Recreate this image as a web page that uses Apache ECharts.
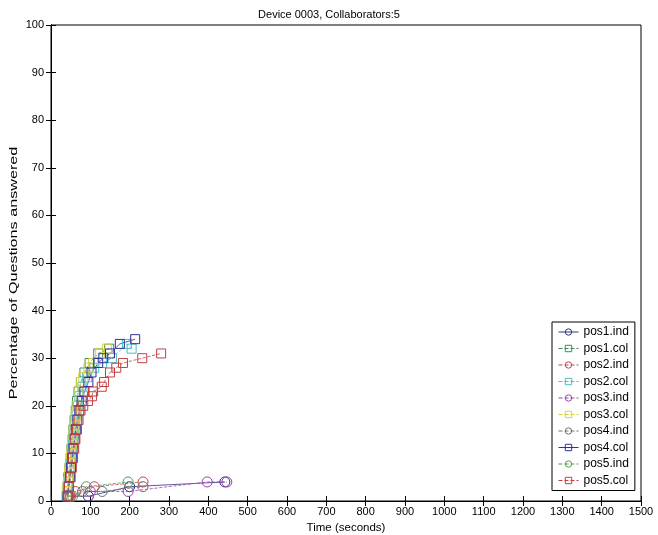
<!DOCTYPE html>
<html>
<head>
<meta charset="utf-8">
<script src="https://cdn.jsdelivr.net/npm/echarts@6/dist/echarts.min.js"></script>
<style>html,body{margin:0;padding:0;background:#fff}#c{width:658px;height:535px}</style>
</head>
<body>
<div id="c"></div>
<script>
var seriesNames = ['pos1.ind','pos1.col','pos2.ind','pos2.col','pos3.ind','pos3.col','pos4.ind','pos4.col','pos5.ind','pos5.col'];
var pos1_ind = [[42,1],[95,1],[200,3],[442,4]];
var pos1_col = [[40,1],[42,3],[44,5],[47,7],[50,9],[52,11],[55,13],[57,15],[60,17],[63,19],[66,21],[70,23],[76,25],[85,27],[98,29],[120,31],[148,32]];
var pos2_ind = [[48,1],[62,2],[110,3],[234,4]];
var pos2_col = [[41,1],[44,3],[47,5],[50,8],[53,10],[56,12],[59,14],[62,16],[65,18],[68,20],[72,22],[80,24],[92,26],[110,28],[130,29],[155,30],[193,33],[205,32]];
var pos3_ind = [[45,1],[100,2],[196,2],[397,4],[447,4]];
var pos3_col = [[40,2],[43,4],[46,6],[48,8],[51,10],[54,12],[57,14],[60,16],[63,18],[65,20],[70,23],[76,25],[82,26],[95,28],[107,29],[125,31],[142,32]];
var pos4_ind = [[50,1],[80,2],[130,2],[234,3]];
var pos4_col = [[42,1],[45,3],[48,5],[51,7],[54,9],[57,11],[60,13],[63,15],[67,17],[72,19],[78,21],[85,23],[95,25],[103,27],[120,29],[133,30],[150,31],[175,33],[214,34]];
var pos5_ind = [[55,1],[90,3],[196,4]];
var pos5_col = [[43,1],[46,3],[50,5],[53,7],[56,9],[59,11],[62,13],[66,15],[70,17],[75,19],[82,20],[94,21],[104,22],[107,23],[129,24],[135,25],[150,27],[166,28],[183,29],[232,30],[280,31]];
var allData = [pos1_ind,pos1_col,pos2_ind,pos2_col,pos3_ind,pos3_col,pos4_ind,pos4_col,pos5_ind,pos5_col];
var colors = ['#33337f','#3f8f4f','#c04848','#48c0c0','#a040b0','#d8d040','#707070','#3030a0','#50a050','#c04040'];
var dashes = ['solid','dashed','dashed','dashed','dashed','dashed','dashed','solid','dashed','dashed'];
var yAxisTitle = 'Percentage of Questions answered';

var chart = echarts.init(document.getElementById('c'));
var series = seriesNames.map(function(n,i){
  var isCol = n.indexOf('.col') > 0;
  return {
    name: n, type: 'line', data: allData[i],
    symbol: isCol ? 'rect' : 'circle',
    symbolSize: isCol ? 9 : 10,
    showSymbol: true,
    lineStyle: {color: colors[i], width: 0.8, type: dashes[i]},
    itemStyle: {color: 'rgba(255,255,255,0)', borderColor: colors[i], borderWidth: 1},
    emphasis: {disabled: true},
    animation: false
  };
});
var tickStyle = {show: true, inside: true, length: 5, lineStyle: {color: '#000', width: 1}};
var fmt = function(v){ return String(v); };
chart.setOption({
  animation: false,
  backgroundColor: '#fff',
  title: {text: 'Device 0003, Collaborators:5', left: 'center', top: 4,
    textStyle: {fontFamily: 'Liberation Sans', fontSize: 11, fontWeight: 'normal', color: '#000'}},
  grid: {left: 51, right: 17, top: 25, bottom: 34, show: true, borderColor: '#000', borderWidth: 1, outerBoundsMode: 'none', containLabel: false},
  legend: {orient: 'vertical', left: 552, top: 322, width: 86,
    padding: [4, 6, 4, 6], itemGap: 4.5, itemWidth: 20, itemHeight: 8,
    borderColor: '#000', borderWidth: 1, backgroundColor: '#fff',
    itemStyle: {borderWidth: 1},
    lineStyle: {width: 1},
    textStyle: {fontFamily: 'Liberation Sans', fontSize: 12, color: '#000'},
    data: seriesNames},
  graphic: [{type: 'text', x: 14, y: 273, rotation: Math.PI / 2, scaleX: 1.47,
    style: {text: yAxisTitle, fontFamily: 'Liberation Sans', fontSize: 11, fill: '#000', align: 'center', verticalAlign: 'middle'}}],
  xAxis: [{type: 'value', min: 0, max: 1500, interval: 100,
    name: 'Time (seconds)', nameLocation: 'middle', nameGap: 16,
    nameTextStyle: {fontFamily: 'Liberation Sans', fontSize: 11.5, color: '#000'},
    axisLine: {lineStyle: {color: '#000'}}, axisTick: tickStyle,
    axisLabel: {fontFamily: 'Liberation Sans', fontSize: 11, color: '#000', margin: 5, formatter: fmt},
    splitLine: {show: false}},
    {type: 'value', min: 0, max: 1500, interval: 100, position: 'top',
    axisLine: {lineStyle: {color: '#000'}}, axisTick: tickStyle, axisLabel: {show: false}, splitLine: {show: false}}],
  yAxis: [{type: 'value', min: 0, max: 100, interval: 10,
    axisLine: {show: true, lineStyle: {color: '#000'}}, axisTick: tickStyle,
    axisLabel: {fontFamily: 'Liberation Sans', fontSize: 11, color: '#000', margin: 7, formatter: fmt},
    splitLine: {show: false}},
    {type: 'value', min: 0, max: 100, interval: 10, position: 'right',
    axisLine: {show: true, lineStyle: {color: '#000'}}, axisTick: tickStyle, axisLabel: {show: false}, splitLine: {show: false}}],
  series: series
});
</script>
</body>
</html>
